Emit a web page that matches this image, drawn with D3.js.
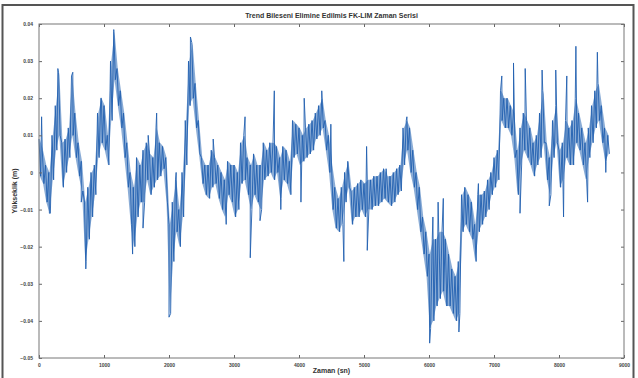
<!DOCTYPE html>
<html>
<head>
<meta charset="utf-8">
<script src="https://cdn.jsdelivr.net/npm/d3@7"></script>
<style>
  body { margin: 0; background: #fff; }
  svg { display: block; font-family: "Liberation Sans", Arial, sans-serif; }
  .tick text { font-size: 5px; font-weight: bold; fill: #444; }
</style>
</head>
<body>
<div id="chart"></div>
<script>
// bin start times (sn), 50 sn apart, and the noise band (mm)
const zaman = [0, 50, 100, 150, 200, 250, 300, 350, 400, 450, 500, 550, 600, 650, 700, 750,
  800, 850, 900, 950, 1000, 1050, 1100, 1150, 1200, 1250, 1300, 1350, 1400, 1450, 1500, 1550,
  1600, 1650, 1700, 1750, 1800, 1850, 1900, 1950, 2000, 2050, 2100, 2150, 2200, 2250, 2300, 2350,
  2400, 2450, 2500, 2550, 2600, 2650, 2700, 2750, 2800, 2850, 2900, 2950, 3000, 3050, 3100, 3150,
  3200, 3250, 3300, 3350, 3400, 3450, 3500, 3550, 3600, 3650, 3700, 3750, 3800, 3850, 3900, 3950,
  4000, 4050, 4100, 4150, 4200, 4250, 4300, 4350, 4400, 4450, 4500, 4550, 4600, 4650, 4700, 4750,
  4800, 4850, 4900, 4950, 5000, 5050, 5100, 5150, 5200, 5250, 5300, 5350, 5400, 5450, 5500, 5550,
  5600, 5650, 5700, 5750, 5800, 5850, 5900, 5950, 6000, 6050, 6100, 6150, 6200, 6250, 6300, 6350,
  6400, 6450, 6500, 6550, 6600, 6650, 6700, 6750, 6800, 6850, 6900, 6950, 7000, 7050, 7100, 7150,
  7200, 7250, 7300, 7350, 7400, 7450, 7500, 7550, 7600, 7650, 7700, 7750, 7800, 7850, 7900, 7950,
  8000, 8050, 8100, 8150, 8200, 8250, 8300, 8350, 8400, 8450, 8500, 8550, 8600, 8650, 8700, 8750]
const bandHi = [9, 6, 2, 0, 10, 18, 27, 8, 9, 12, 26, 16, 8, 3, -8, -4,
  0, 2, 16, 20, 18, 10, 30, 38, 28, 22, 16, 8, 0, -4, 4, 2,
  6, 8, 5, 4, 12, 8, 7, 4, -14, -8, -2, -10, 0, 14, 30, 35,
  24, 14, 4, 2, 2, 6, 4, 2, 0, -2, 3, 2, 2, 0, 8, 10,
  4, 2, 5, 2, 2, 8, 6, 8, 8, 7, 4, 7, 6, 3, 14, 13,
  12, 10, 12, 13, 14, 16, 18, 20, 14, 10, 2, -4, -7, -4, 0, 3,
  -5, -4, -3, -2, -3, -2, -2, -1, -1, 0, 1, -1, -1, 0, 1, 2,
  12, 14, 12, 6, 0, -4, -12, -16, -22, -18, -18, -16, -16, -18, -22, -26,
  -28, -24, -6, -4, -6, -8, -14, -6, -6, -5, -2, 0, 4, 6, 22, 20,
  20, 18, 16, 6, 12, 16, 14, 12, 8, 10, 16, 22, 8, 4, 14, 18,
  6, 8, 14, 12, 14, 20, 16, 12, 8, 12, 18, 22, 24, 18, 12, 10]
const bandLo = [-1, -3, -8, -11, -2, 6, 10, -4, 0, 4, 10, 4, -1, -5, -24, -18,
  -12, -6, 4, 8, 6, 2, 14, 25, 18, 12, 4, -4, -14, -20, -12, -8,
  -8, -2, -6, -4, -2, -1, 1, -8, -38, -24, -16, -20, -12, 2, 18, 20,
  12, 5, -3, -6, -7, -4, -3, -7, -10, -12, -6, -8, -12, -10, -3, -2,
  -6, -10, -6, -8, -10, -2, -1, 0, -2, 0, -7, -2, -3, -6, 4, 5,
  2, 3, 4, 5, 6, 9, 10, 12, 6, 0, -10, -15, -16, -14, -8, -4,
  -14, -12, -12, -10, -12, -10, -10, -9, -9, -8, -7, -8, -9, -8, -6, -5,
  2, 6, 0, -4, -10, -16, -22, -28, -42, -40, -36, -34, -32, -36, -36, -38,
  -40, -38, -16, -14, -16, -18, -24, -16, -14, -12, -10, -6, -4, -2, 14, 12,
  12, 10, 4, -6, 2, 6, 4, 2, -1, 2, 4, 8, -2, -6, 4, 8,
  -4, -2, 4, 2, 2, 8, 6, 2, -2, 4, 8, 12, 14, 8, 3, 5]
// single spikes [zaman, mm]
const spikes = [[40, 15], [160, -11], [290, 28], [520, 27], [650, -8], [720, -26],
  [960, 20], [1150, 38.5], [1440, -22], [1600, -15], [1680, 10], [1810, 16],
  [2000, -39], [2110, 0], [2330, 36.5], [2680, 9], [2880, -14], [3170, 15],
  [3250, -23], [3400, -13], [3620, 22], [3720, -10], [4030, -8], [4080, 20],
  [4350, 22], [4490, 13], [4690, -24], [5040, 7], [5050, -21], [5340, 1],
  [5660, 15], [6010, -46], [6060, -12], [6140, -8], [6220, -7], [6460, -43],
  [6760, -3], [7120, 26], [7300, 29.5], [7400, -11], [7480, 28], [7740, 27.6],
  [7850, -9], [7950, 27.6], [8070, -12], [8120, 26], [8260, 34], [8440, -8],
  [8590, 32.4], [8720, 0]]
const xTicks = [0, 1000, 2000, 3000, 4000, 5000, 6000, 7000, 8000, 9000]
const yTicks = [0.04, 0.03, 0.02, 0.01, 0, -0.01, -0.02, -0.03, -0.04, -0.05]

const W = 638, H = 378
const m = {left: 39, right: 14, top: 24, bottom: 20}

const svg = d3.select('#chart').append('svg').attr('width', W).attr('height', H)

// scanned figure frame (open at the bottom)
svg.append('path')
    .attr('d', 'M2.5,378V5H633.5V378')
    .attr('fill', 'none').attr('stroke', '#555').attr('stroke-width', 2)

const x = d3.scaleLinear().domain([0, 9000]).range([m.left, W - m.right])
const y = d3.scaleLinear().domain([-0.05, 0.04]).range([H - m.bottom, m.top])

// dense core of the noise band
const band = zaman.map((t, i) => ({t, lo: bandLo[i] / 1000, hi: bandHi[i] / 1000}))
svg.append('path')
    .datum(band)
    .attr('fill', '#2a67b5')
    .attr('fill-opacity', 0.55)
    .attr('d', d3.area()
        .x((d) => x(d.t + 12))
        .y0((d) => y(d.lo))
        .y1((d) => y(d.hi)))

// noisy series drawn as a zigzag through the band, spikes merged in time order
const pts = []
band.forEach((d) => {
  pts.push({t: d.t, v: d.hi})
  pts.push({t: d.t + 25, v: d.lo})
})
spikes.forEach(([t, v]) => pts.push({t, v: v / 1000}))
pts.sort((a, b) => a.t - b.t)

svg.append('path')
    .datum(pts)
    .attr('fill', 'none')
    .attr('stroke', '#2160b0')
    .attr('stroke-width', 0.9)
    .attr('d', d3.line().x((d) => x(d.t)).y((d) => y(d.v)))

// axes box with inner ticks on all sides
const axStyle = (g) => {
  g.select('.domain').remove()
  g.selectAll('.tick line').attr('stroke', '#666')
}
svg.append('g').attr('transform', `translate(0,${y(-0.05)})`)
    .call(d3.axisBottom(x).tickValues(xTicks).tickSize(-3).tickPadding(5).tickFormat(d3.format('d')))
    .call(axStyle)
svg.append('g').attr('transform', `translate(0,${m.top})`)
    .call(d3.axisTop(x).tickValues(xTicks).tickSize(-3).tickFormat(''))
    .call(axStyle)
svg.append('g').attr('transform', `translate(${m.left},0)`)
    .call(d3.axisLeft(y).tickValues(yTicks).tickSize(-3).tickPadding(6)
        .tickFormat((d) => d === 0 ? '0' : d3.format('.2f')(d)))
    .call(axStyle)
svg.append('g').attr('transform', `translate(${x(9000)},0)`)
    .call(d3.axisRight(y).tickValues(yTicks).tickSize(-3).tickFormat(''))
    .call(axStyle)

svg.append('rect')
    .attr('x', m.left).attr('y', m.top)
    .attr('width', x(9000) - m.left).attr('height', y(-0.05) - m.top)
    .attr('fill', 'none').attr('stroke', '#777').attr('stroke-width', 1)

svg.append('text')
    .attr('x', (m.left + x(9000)) / 2).attr('y', 18)
    .attr('text-anchor', 'middle')
    .style('font-size', '7px').style('font-weight', 'bold').attr('fill', '#333')
    .text('Trend Bileseni Elimine Edilmis FK-LIM Zaman Serisi')

svg.append('text')
    .attr('x', (m.left + x(9000)) / 2).attr('y', 373)
    .attr('text-anchor', 'middle')
    .style('font-size', '7px').style('font-weight', 'bold').attr('fill', '#333')
    .text('Zaman (sn)')

svg.append('text')
    .attr('transform', `translate(17,${(m.top + y(-0.05)) / 2}) rotate(-90)`)
    .attr('text-anchor', 'middle')
    .style('font-size', '7px').style('font-weight', 'bold').attr('fill', '#333')
    .text('Yükseklik (m)')
</script>
</body>
</html>
